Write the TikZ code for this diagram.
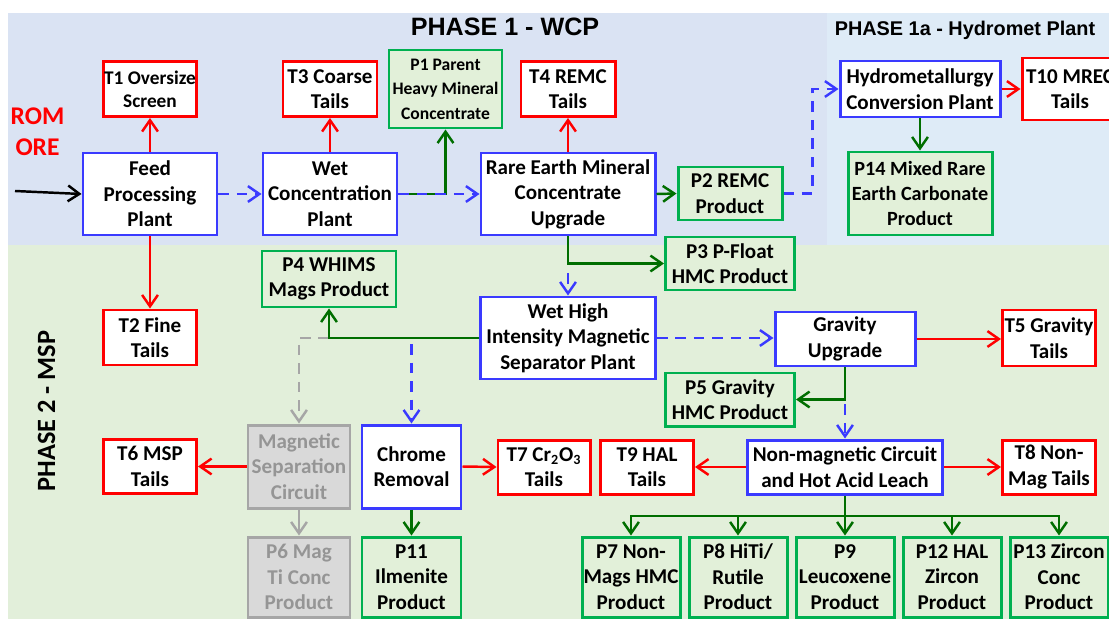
\documentclass[tikz,border=0pt]{standalone}
\usepackage{fontspec}
\setmainfont{Carlito}
\newfontfamily\arialfont{Liberation Sans}
\usetikzlibrary{arrows.meta}

\definecolor{boxblue}{HTML}{3A3AFF}
\definecolor{boxred}{HTML}{FF0000}
\definecolor{boxgreen}{HTML}{00B050}
\definecolor{fillgreen}{HTML}{E2F0D9}
\definecolor{linegreen}{HTML}{006E00}
\definecolor{boxgray}{HTML}{A6A6A6}
\definecolor{fillgray}{HTML}{D9D9D9}
\definecolor{textgray}{HTML}{959595}
\definecolor{bgone}{HTML}{DAE3F3}
\definecolor{bgonea}{HTML}{DEEBF7}
\definecolor{bgtwo}{HTML}{E2EFDA}

\tikzset{
  unit/.style={draw, line width=1.7pt, align=center, inner sep=0pt,
    font=\fontsize{12}{14.5}\selectfont\bfseries},
  dims/.style 2 args={minimum width=#1*0.02cm, minimum height=#2*0.02cm},
  plant/.style={unit, draw=boxblue, fill=white},
  tails/.style={unit, draw=boxred, fill=white},
  prod/.style={unit, draw=boxgreen, fill=fillgreen},
  idle/.style={unit, draw=boxgray, fill=fillgray, text=textgray},
  barb/.style={-{Straight Barb[length=6.5pt,width=9pt]}},
  rflow/.style={barb, draw=boxred, line width=1.4pt},
  gflow/.style={barb, draw=linegreen, line width=1.4pt},
  gline/.style={draw=linegreen, line width=1.4pt},
  bflow/.style={barb, draw=boxblue, line width=1.4pt, dash pattern=on 6pt off 4.5pt},
  grflow/.style={barb, draw=boxgray, line width=1.4pt, dash pattern=on 6pt off 4.5pt},
}

\begin{document}
\begin{tikzpicture}[x=0.02cm, y=-0.02cm]
    \useasboundingbox (0,0) rectangle (1109,619);

    % Phase backgrounds
    \fill[bgone] (8,13) rectangle (827,245);
    \fill[bgonea] (827,13) rectangle (1109,245);
    \fill[bgtwo] (8,245) rectangle (1109,619);

    % Phase titles
    \node[anchor=base, font=\arialfont\bfseries\fontsize{14.3}{16}\selectfont] (phaseone) at (505,35) {PHASE 1 - WCP};
    \node[anchor=base, font=\arialfont\bfseries\fontsize{11.3}{13}\selectfont] (phaseonea) at (965,35) {PHASE 1a - Hydromet Plant};
    \node[rotate=90, font=\bfseries\fontsize{15}{18}\selectfont] (phasetwo) at (46.5,411) {PHASE 2 - MSP};
    \node[text=boxred, align=center, font=\bfseries\fontsize{14.5}{17.6}\selectfont] (rom) at (37.5,132) {ROM\\ORE};

    % Phase 1 - WCP
    \node[plant, dims={134}{82}] (feed) at (150,194) {Feed\\Processing\\Plant};
    \node[plant, dims={134}{82}] (wet) at (330,194) {Wet\\Concentration\\Plant};
    \node[plant, dims={174}{82}] (remc) at (568,194) {Rare Earth Mineral\\Concentrate\\Upgrade};
    \node[tails, dims={93}{55}, font=\fontsize{11}{13}\selectfont\bfseries] (t1) at (150,89) {T1 Oversize\\Screen};
    \node[tails, dims={94}{55}] (t3) at (330,89) {T3 Coarse\\Tails};
    \node[prod, dims={113}{78}, font=\fontsize{10}{14}\selectfont\bfseries] (p1) at (445.5,89) {P1 Parent\\Heavy Mineral\\Concentrate};
    \node[tails, dims={94}{55}] (t4) at (568,89) {T4 REMC\\Tails};
    \node[prod, dims={104}{53}] (p2) at (730,193.5) {P2 REMC\\Product};

    % Phase 1a - Hydromet
    \node[plant, dims={160}{56}] (hydro) at (920,89) {Hydrometallurgy\\Conversion Plant};
    \node[tails, dims={96}{62}] (t10) at (1070,89) {T10 MREC\\Tails};
    \node[prod, dims={144}{83}, font=\fontsize{11.5}{14.5}\selectfont\bfseries] (p14) at (920,193.5) {P14 Mixed Rare\\Earth Carbonate\\Product};

    % Phase 2 - MSP
    \node[prod, dims={129}{53}] (p3) at (730,263.5) {P3 P-Float\\HMC Product};
    \node[prod, dims={134}{56}] (p4) at (329,279) {P4 WHIMS\\Mags Product};
    \node[tails, dims={93}{55}] (t2) at (150,337.5) {T2 Fine\\Tails};
    \node[plant, dims={175}{82}] (whims) at (568,338) {Wet High\\Intensity Magnetic\\Separator Plant};
    \node[plant, dims={140}{54}] (grav) at (845,339) {Gravity\\Upgrade};
    \node[tails, dims={93}{56}] (t5) at (1049,338) {T5 Gravity\\Tails};
    \node[prod, dims={129}{53}] (p5) at (730,399.5) {P5 Gravity\\HMC Product};
    \node[tails, dims={93}{54}] (t6) at (150,466.5) {T6 MSP\\Tails};
    \node[idle, dims={102}{83}] (magsep) at (299,466.5) {Magnetic\\Separation\\Circuit};
    \node[plant, dims={99}{83}] (chrome) at (411.5,466.5) {Chrome\\Removal};
    \node[tails, dims={92}{54}] (t7) at (544,467) {T7 Cr\textsubscript{2}O\textsubscript{3}\\Tails};
    \node[tails, dims={93}{54}] (t9) at (647,467) {T9 HAL\\Tails};
    \node[plant, dims={195}{54}] (nonmag) at (845,467) {Non-magnetic Circuit\\and Hot Acid Leach};
    \node[tails, dims={93}{54}] (t8) at (1049,467) {T8 Non-\\Mag Tails};
    \node[idle, dims={102}{80}] (p6) at (299,577) {P6 Mag\\Ti Conc\\Product};
    \node[prod, dims={99}{80}] (p11) at (411.5,577) {P11\\Ilmenite\\Product};
    \node[prod, dims={98}{80}] (p7) at (631,577) {P7 Non-\\Mags HMC\\Product};
    \node[prod, dims={98}{80}] (p8) at (738,577) {P8 HiTi/\\Rutile\\Product};
    \node[prod, dims={98}{80}] (p9) at (845,577) {P9\\Leucoxene\\Product};
    \node[prod, dims={98}{80}] (p12) at (952,577) {P12 HAL\\Zircon\\Product};
    \node[prod, dims={98}{80}] (p13) at (1059,577) {P13 Zircon\\Conc\\Product};

    % Feed and phase 1 flows
    \coordinate (feedin) at (15,191);
    \draw[barb, line width=1.4pt] (feedin) -- (feed.west);
    \draw[rflow] (feed.north) -- (t1.south);
    \draw[rflow] (feed.south) -- (t2.north);
    \draw[bflow] (feed.east) -- (wet.west);
    \draw[rflow] (wet.north) -- (t3.south);
    \draw[gflow] (wet.east) -| (p1.south);
    \draw[bflow] (wet.east) -- (remc.west);
    \draw[rflow] (remc.north) -- (t4.south);
    \draw[gflow] (remc.east) -- (p2.west);
    \draw[bflow] (p2.east) -- ++(29,0) |- (hydro.west);
    \draw[rflow] (hydro.east) -- (t10.west);
    \draw[gflow] (hydro.south) -- (p14.north);

    % Phase 2 flows
    \draw[bflow] (remc.south) -- (whims.north);
    \draw[gflow] (remc.south) |- (p3.west);
    \draw[bflow] (whims.west) -| (chrome.north);
    \draw[grflow] (p4.south |- whims.west) -| (magsep.north);
    \draw[gflow] (whims.west) -| (p4.south);
    \draw[bflow] (whims.east) -- (grav.west |- whims.east);
    \draw[rflow] (grav.east) -- (t5.west |- grav.east);
    \draw[bflow] (grav.south) -- (nonmag.north);
    \draw[gflow] (grav.south) |- (p5.east);
    \draw[rflow] (magsep.west) -- (t6.east);
    \draw[barb, draw=boxgray, line width=1.4pt] (magsep.south) -- (p6.north);
    \draw[rflow] (chrome.east) -- (t7.west);
    \draw[gflow] (chrome.south) -- (p11.north);
    \draw[rflow] (nonmag.west) -- (t9.east);
    \draw[rflow] (nonmag.east) -- (t8.west);

    % Non-magnetic products
    \coordinate (bus) at (845,516);
    \draw[gline] (nonmag.south) -- (bus);
    \foreach \n in {p7,p8,p9,p12,p13} \draw[gflow] (bus) -| (\n.north);
\end{tikzpicture}
\end{document}
